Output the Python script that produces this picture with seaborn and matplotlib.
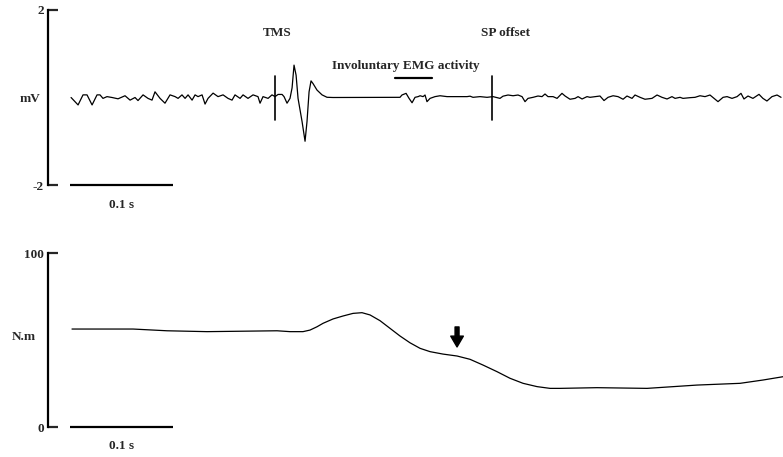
import matplotlib
matplotlib.use("Agg")
import matplotlib.pyplot as plt
import seaborn as sns
import pandas as pd

# ---------------- data ----------------
# EMG trace: time (ms from start of recording) and amplitude (mV)
emg_time = [1.0, 7.8, 12.6, 16.5, 21.4, 26.2, 29.1, 32.0, 35.9, 40.8, 46.6, 53.4, 58.3, 63.1, 66.0,
            70.9, 75.7, 79.6, 82.5, 87.4, 92.2, 97.1, 102.0, 104.9, 108.7, 111.7, 114.6, 118.5,
            121.4, 124.3, 128.2, 131.1, 134.0, 138.9, 143.7, 148.6, 153.4, 157.3, 160.2, 165.1,
            168.0, 172.8, 177.7, 182.5, 184.5, 187.4, 192.3, 196.1, 199.1, 202.0, 205.9, 207.8,
            210.7, 213.6, 215.6, 217.5, 219.5, 221.4, 225.3, 228.2, 230.1, 232.1, 234.0, 235.9,
            239.8, 244.7, 249.5, 255.4, 301.0, 320.4, 322.3, 326.3, 329.2, 332.1, 335.0, 338.0,
            339.9, 342.8, 344.7, 346.6, 349.6, 354.4, 359.3, 366.1, 385.5, 388.4, 391.3, 398.1,
            404.9, 410.7, 417.5, 420.4, 425.3, 430.2, 435.0, 438.9, 441.8, 444.7, 449.6, 454.4,
            458.3, 461.2, 464.1, 469.0, 472.9, 477.7, 480.7, 485.5, 490.4, 493.3, 497.2, 502.0,
            504.9, 509.8, 514.6, 518.5, 522.4, 527.3, 532.1, 537.0, 540.8, 545.7, 548.6, 553.5,
            558.3, 565.1, 570.0, 574.8, 579.7, 584.5, 587.5, 592.3, 595.2, 602.0, 606.9, 611.7,
            616.6, 621.4, 626.3, 629.2, 634.1, 638.0, 642.8, 647.7, 651.5, 654.4, 658.3, 663.1,
            669.0, 672.8, 676.7, 681.6, 686.5, 690.4]
emg_mv = [0.00, -0.17, 0.06, 0.06, -0.17, 0.06, 0.06, -0.02, 0.02, 0.00, -0.03, 0.04, -0.06, 0.00, -0.07,
          0.06, -0.02, -0.06, 0.13, -0.02, -0.13, 0.06, 0.02, -0.02, 0.06, -0.02, 0.06, -0.06,
          0.06, 0.02, 0.06, -0.15, -0.02, 0.10, 0.02, 0.06, -0.02, -0.06, 0.06, -0.02,
          0.06, -0.02, 0.06, 0.02, -0.13, 0.02, -0.02, 0.06, 0.02, 0.07, 0.07, 0.02,
          -0.13, -0.02, 0.22, 0.74, 0.51, -0.02, -0.55, -1.00, -0.55, 0.13, 0.38, 0.32,
          0.17, 0.06, 0.005, 0.00, 0.004, 0.004, 0.057, 0.095, -0.02, -0.12, 0.004, 0.02,
          0.04, 0.02, 0.057, -0.095, -0.02, 0.02, 0.04, 0.02, 0.02, 0.03, 0.004, 0.02,
          0.004, 0.02, -0.02, 0.03, 0.057, 0.04, 0.057, 0.02, -0.095, -0.02, 0.004, 0.034,
          0.02, 0.08, 0.02, 0.02, -0.02, 0.095, 0.034, -0.04, -0.02, 0.02, -0.034, 0.02,
          0.004, 0.02, 0.034, -0.07, 0.004, 0.04, 0.02, -0.04, 0.034, -0.02, 0.057, 0.004,
          -0.04, -0.02, 0.057, 0.004, -0.034, 0.02, -0.02, 0.004, -0.02, -0.004, 0.004, 0.04,
          0.02, 0.057, -0.04, -0.095, 0.004, 0.02, -0.02, 0.02, 0.095, -0.034, 0.034, -0.02,
          0.072, -0.02, -0.08, 0.02, 0.057, 0.004]

# Torque trace: time (ms) and torque (N.m)
torque_time = [1.9, 61.2, 94.2, 133.0, 201.0, 213.6, 226.2, 233.0, 239.8, 245.7, 255.4, 265.1,
               274.8, 283.5, 291.3, 301.0, 310.7, 320.4, 330.1, 339.9, 349.6, 362.2, 375.8,
               388.4, 401.0, 414.6, 427.2, 439.9, 453.5, 466.1, 475.8, 511.7, 560.3, 608.8,
               650.6, 672.9, 692.3]
torque_nm = [56.3, 56.3, 55.3, 54.8, 55.3, 54.8, 54.8, 55.7, 57.6, 59.6, 62.1, 63.8,
             65.3, 65.7, 64.4, 61.1, 56.7, 52.3, 48.4, 45.2, 43.3, 41.9, 40.8,
             38.9, 35.6, 31.8, 28.0, 25.1, 23.2, 22.2, 22.2, 22.6, 22.2, 24.1,
             25.1, 27.0, 28.9]

tms_time = 199.0
sp_offset_time = 409.8
invol_start, invol_end = 315.6, 351.5
arrow_time = 375.8
scale_bar = [0, 100]  # 0.1 s

# ---------------- style ----------------
sns.set_style("white")
plt.rcParams["font.family"] = ["Liberation Serif", "DejaVu Serif"]
plt.rcParams["font.weight"] = "bold"
FS = 9.5

fig = plt.figure(figsize=(7.83, 4.57), dpi=100)
W, H = 783, 457
xmin = -21.4
xmax = 692.3

def make_ax(top_px, bot_px):
    ax = fig.add_axes([48 / W, 1 - bot_px / H, (W - 48) / W, (bot_px - top_px) / H])
    for s in ["top", "right", "bottom"]:
        ax.spines[s].set_visible(False)
    ax.spines["left"].set_linewidth(1.6)
    ax.spines["left"].set_color("black")
    ax.tick_params(axis="y", direction="in", length=7, width=1.6, labelsize=FS, pad=3, left=True)
    ax.set_xticks([])
    ax.set_xlim(xmin, xmax)
    return ax

# ---- top: EMG ----
ax1 = make_ax(10, 185)
df_emg = pd.DataFrame({"t": emg_time, "mv": emg_mv})
sns.lineplot(data=df_emg, x="t", y="mv", ax=ax1, color="black", linewidth=0.9, estimator=None)
ax1.set_ylim(-2, 2)
ax1.set_yticks([-2, 2])
ax1.set_yticklabels(["-2", "2"], fontweight="bold")
ax1.set_xlabel("")
ax1.set_ylabel("mV", rotation=0, fontsize=FS, fontweight="bold", ha="right", va="center")
ax1.yaxis.set_label_coords(-0.010, 0.49)

ax1.plot([tms_time, tms_time], [-0.51, 0.49], color="black", lw=1.2)
ax1.plot([sp_offset_time, sp_offset_time], [-0.51, 0.49], color="black", lw=1.2)
ax1.text(tms_time + 2, 1.47, "TMS", ha="center", va="center", fontsize=FS, fontweight="bold")
ax1.text(422.4, 1.47, "SP offset", ha="center", va="center", fontsize=FS, fontweight="bold")
ax1.text(326.2, 0.72, "Involuntary EMG activity", ha="center", va="center", fontsize=FS, fontweight="bold")
ax1.plot([invol_start, invol_end], [0.44, 0.44], color="black", lw=1.6)
ax1.plot(scale_bar, [-2, -2], color="black", lw=1.6, clip_on=False, solid_capstyle="butt")
ax1.text(50, -2.46, "0.1 s", ha="center", va="center", fontsize=FS, fontweight="bold")

# ---- bottom: torque ----
ax2 = make_ax(253, 427)
df_tq = pd.DataFrame({"t": torque_time, "nm": torque_nm})
sns.lineplot(data=df_tq, x="t", y="nm", ax=ax2, color="black", linewidth=0.9, estimator=None)
ax2.set_ylim(0, 100)
ax2.set_yticks([0, 100])
ax2.set_yticklabels(["0", "100"], fontweight="bold")
ax2.set_xlabel("")
ax2.set_ylabel("N.m", rotation=0, fontsize=FS, fontweight="bold", ha="right", va="center")
ax2.yaxis.set_label_coords(-0.017, 0.515)
ax2.plot(scale_bar, [0, 0], color="black", lw=1.6, clip_on=False, solid_capstyle="butt")
ax2.text(50, -10.9, "0.1 s", ha="center", va="center", fontsize=FS, fontweight="bold")
ax2.annotate("", xy=(arrow_time, 46), xytext=(arrow_time, 57.5),
             arrowprops=dict(arrowstyle="simple,head_width=0.7,head_length=0.6,tail_width=0.22",
                             color="black", shrinkA=0, shrinkB=0, mutation_scale=13))

fig.savefig("out.png", dpi=100)
